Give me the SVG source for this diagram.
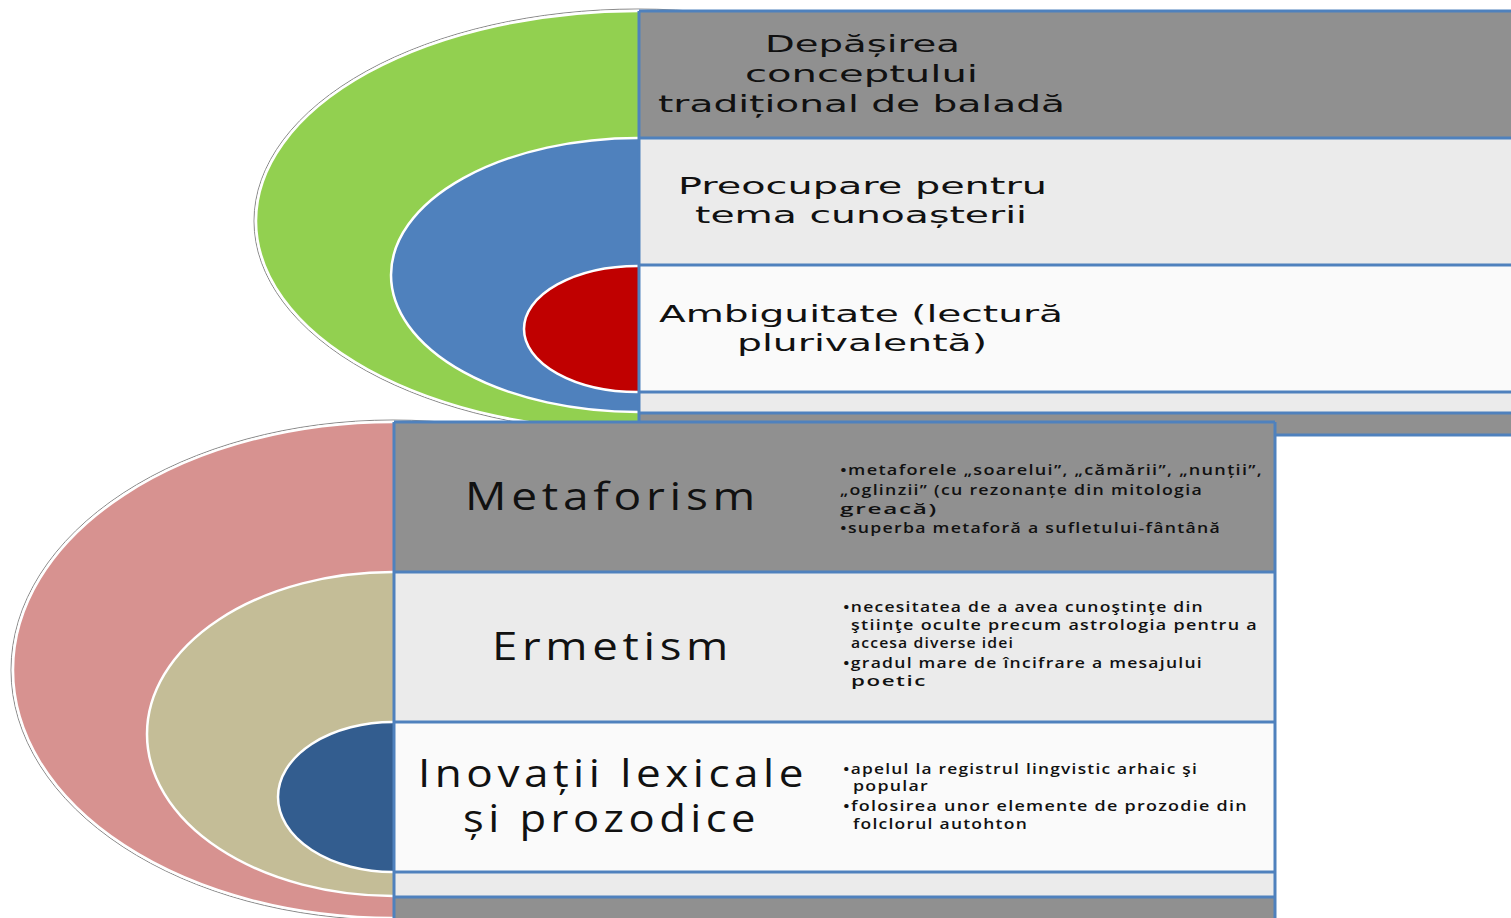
<svg xmlns="http://www.w3.org/2000/svg" width="1511" height="918" viewBox="0 0 1511 918">
<style>
.ring{stroke:#ffffff;stroke-width:2.5}
.halo{fill:none;stroke:#8a8a8a;stroke-width:1}
.dark{fill:#909090}
.light{fill:#ebebeb}
.white{fill:#fafafa}
.line{stroke:#4f81bd;stroke-width:3;fill:none}
.t1{font-family:"DejaVu Sans",sans-serif;font-size:23px;fill:#111}
.t2{font-family:"Open Sans","Liberation Sans",sans-serif;font-size:39px;letter-spacing:4px;fill:#111}
.t3{font-family:"Open Sans","Liberation Sans",sans-serif;font-size:14px;font-weight:600;letter-spacing:1px;fill:#111}
</style>
<rect width="1511" height="918" fill="#ffffff"/>

<g id="top-rings">
  <ellipse class="halo" cx="638" cy="221" rx="384" ry="212"/>
  <ellipse class="ring" cx="638" cy="221" rx="382" ry="210" fill="#92d050"/>
  <ellipse class="ring" cx="638" cy="275" rx="247" ry="137" fill="#4f81bd"/>
  <ellipse class="ring" cx="638" cy="329" rx="114" ry="63" fill="#c00000"/>
</g>

<g id="top-panel">
  <rect class="dark" x="639" y="11" width="880" height="127"/>
  <rect class="light" x="639" y="138" width="880" height="127"/>
  <rect class="white" x="639" y="265" width="880" height="127"/>
  <rect class="light" x="639" y="392" width="880" height="21"/>
  <rect class="dark" x="639" y="413" width="880" height="22"/>
  <path class="line" d="M639 11H1515M639 138H1515M639 265H1515M639 392H1515M639 413H1515M639 435H1515M639 11V435"/>
</g>

<g id="node-depasirea">
  <text class="t1" x="765" y="52" textLength="195" lengthAdjust="spacingAndGlyphs">Depășirea</text>
  <text class="t1" x="745" y="82" textLength="233" lengthAdjust="spacingAndGlyphs">conceptului</text>
  <text class="t1" x="658" y="112" textLength="407" lengthAdjust="spacingAndGlyphs">tradițional de baladă</text>
</g>
<g id="node-preocupare">
  <text class="t1" x="678" y="194" textLength="369" lengthAdjust="spacingAndGlyphs">Preocupare pentru</text>
  <text class="t1" x="695" y="223" textLength="332" lengthAdjust="spacingAndGlyphs">tema cunoașterii</text>
</g>
<g id="node-ambiguitate">
  <text class="t1" x="659" y="322" textLength="404" lengthAdjust="spacingAndGlyphs">Ambiguitate (lectură</text>
  <text class="t1" x="737" y="351" textLength="250" lengthAdjust="spacingAndGlyphs">plurivalentă)</text>
</g>

<g id="bottom-rings">
  <ellipse class="halo" cx="393" cy="670" rx="382" ry="250"/>
  <ellipse class="ring" cx="393" cy="670" rx="380" ry="248" fill="#d79290"/>
  <ellipse class="ring" cx="393" cy="734" rx="246" ry="162" fill="#c4bd97"/>
  <ellipse class="ring" cx="393" cy="797" rx="115" ry="75" fill="#335d8f"/>
</g>

<g id="bottom-panel">
  <rect class="dark" x="394" y="422" width="881" height="150"/>
  <rect class="light" x="394" y="572" width="881" height="150"/>
  <rect class="white" x="394" y="722" width="881" height="150"/>
  <rect class="light" x="394" y="872" width="881" height="25"/>
  <rect class="dark" x="394" y="897" width="881" height="25"/>
  <path class="line" d="M394 422H1275M394 572H1275M394 722H1275M394 872H1275M394 897H1275M394 422V920M1275 422V920"/>
</g>

<g id="node-metaforism">
  <text class="t2" x="465" y="510" textLength="295" lengthAdjust="spacingAndGlyphs">Metaforism</text>
  <text class="t3" x="840" y="475" textLength="423" lengthAdjust="spacingAndGlyphs">•metaforele „soarelui”, „cămării”, „nunții”,</text>
  <text class="t3" x="840" y="495" textLength="363" lengthAdjust="spacingAndGlyphs">„oglinzii” (cu rezonanțe din mitologia</text>
  <text class="t3" x="840" y="514" textLength="98" lengthAdjust="spacingAndGlyphs">greacă)</text>
  <text class="t3" x="840" y="533" textLength="381" lengthAdjust="spacingAndGlyphs">•superba metaforă a sufletului-fântână</text>
</g>

<g id="node-ermetism">
  <text class="t2" x="492" y="660" textLength="241" lengthAdjust="spacingAndGlyphs">Ermetism</text>
  <text class="t3" x="843" y="612" textLength="361" lengthAdjust="spacingAndGlyphs">•necesitatea de a avea cunoştinţe din</text>
  <text class="t3" x="851" y="630" textLength="407" lengthAdjust="spacingAndGlyphs">ştiinţe oculte precum astrologia pentru a</text>
  <text class="t3" x="851" y="648" textLength="163" lengthAdjust="spacingAndGlyphs">accesa diverse idei</text>
  <text class="t3" x="843" y="668" textLength="360" lengthAdjust="spacingAndGlyphs">•gradul mare de încifrare a mesajului</text>
  <text class="t3" x="851" y="686" textLength="76" lengthAdjust="spacingAndGlyphs">poetic</text>
</g>

<g id="node-inovatii">
  <text class="t2" x="418" y="787" textLength="390" lengthAdjust="spacingAndGlyphs">Inovații lexicale</text>
  <text class="t2" x="463" y="832" textLength="297" lengthAdjust="spacingAndGlyphs">și prozodice</text>
  <text class="t3" x="843" y="774" textLength="355" lengthAdjust="spacingAndGlyphs">•apelul la registrul lingvistic arhaic şi</text>
  <text class="t3" x="853" y="791" textLength="76" lengthAdjust="spacingAndGlyphs">popular</text>
  <text class="t3" x="843" y="811" textLength="405" lengthAdjust="spacingAndGlyphs">•folosirea unor elemente  de prozodie din</text>
  <text class="t3" x="853" y="829" textLength="175" lengthAdjust="spacingAndGlyphs">folclorul autohton</text>
</g>

<g id="connectors"/>
</svg>
